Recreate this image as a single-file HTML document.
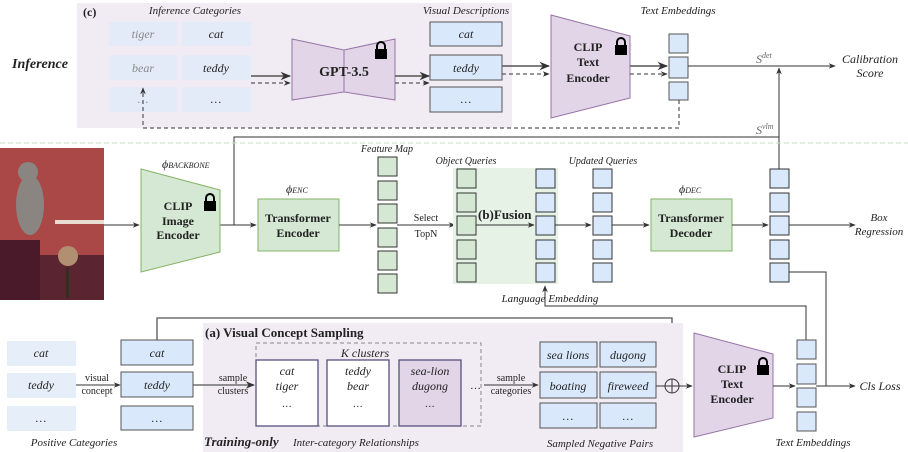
<!DOCTYPE html>
<html><head><meta charset="utf-8"><style>body{margin:0;background:#fff}svg{display:block}text{font-family:"Liberation Serif",serif;fill:#222}</style></head><body>
<svg width="908" height="452" viewBox="0 0 908 452" xmlns="http://www.w3.org/2000/svg">
<defs><marker id="a" viewBox="0 0 10 10" refX="9" refY="5" markerWidth="7" markerHeight="7" orient="auto"><path d="M0,1 L10,5 L0,9 L3,5z" fill="#333"/></marker></defs>
<g font-size="11">
<!-- top panel -->
<rect x="77" y="3" width="435" height="125" fill="#f1ecf4"/>
<text x="83" y="16" font-weight="bold" font-size="12">(c)</text>
<text x="12" y="68" font-weight="bold" font-style="italic" font-size="14">Inference</text>
<text x="195" y="14" text-anchor="middle" font-style="italic">Inference Categories</text>
<g fill="#e3ebf8"><rect x="109" y="22" width="68" height="24"/><rect x="182" y="22" width="69" height="24"/><rect x="109" y="55" width="68" height="25"/><rect x="182" y="55" width="69" height="25"/><rect x="109" y="87" width="68" height="25"/><rect x="182" y="87" width="69" height="25"/></g>
<g font-style="italic" text-anchor="middle" font-size="12"><text x="143" y="38" style="fill:#888">tiger</text><text x="216" y="38">cat</text><text x="143" y="72" style="fill:#888">bear</text><text x="216" y="72">teddy</text><text x="143" y="103" style="fill:#888">…</text><text x="216" y="103">…</text></g>
<line x1="251" y1="76" x2="290" y2="76" stroke="#555" stroke-width="1.5" marker-end="url(#a)"/>
<line x1="251" y1="83" x2="290" y2="83" stroke="#333" stroke-dasharray="4,3" marker-end="url(#a)"/>
<path d="M292,39 L344,50 L344,92 L292,100z M344,50 L395,39 L395,100 L344,92z" fill="#e1d5e7" stroke="#9673a6"/>
<text x="344" y="76" text-anchor="middle" font-weight="bold" font-size="14">GPT-3.5</text>
<g transform="translate(374,42)"><path d="M3,7 V4 a4,4 0 0 1 8,0 V7" fill="none" stroke="#000" stroke-width="2"/><rect x="1" y="7" width="12" height="10" fill="#000"/></g>
<line x1="395" y1="76" x2="429" y2="76" stroke="#555" stroke-width="1.5" marker-end="url(#a)"/>
<line x1="395" y1="83" x2="429" y2="83" stroke="#333" stroke-dasharray="4,3" marker-end="url(#a)"/>
<text x="466" y="14" text-anchor="middle" font-style="italic">Visual Descriptions</text>
<g fill="#dae8fc" stroke="#555"><rect x="430" y="22" width="72" height="24"/><rect x="430" y="55" width="72" height="25"/><rect x="430" y="87" width="72" height="25"/></g>
<g font-style="italic" text-anchor="middle" font-size="12"><text x="466" y="38">cat</text><text x="466" y="72">teddy</text><text x="466" y="103">…</text></g>
<line x1="502" y1="66" x2="549" y2="66" stroke="#555" stroke-width="1.5" marker-end="url(#a)"/>
<line x1="502" y1="74" x2="549" y2="74" stroke="#333" stroke-dasharray="4,3" marker-end="url(#a)"/>
<path d="M551,15 L630,36 L630,98 L551,118z" fill="#e1d5e7" stroke="#9673a6"/>
<g font-weight="bold" font-size="12" text-anchor="middle"><text x="588" y="51">CLIP</text><text x="588" y="66">Text</text><text x="588" y="82">Encoder</text></g>
<g transform="translate(614,38)"><path d="M3,7 V4 a4,4 0 0 1 8,0 V7" fill="none" stroke="#000" stroke-width="2"/><rect x="1" y="7" width="12" height="10" fill="#000"/></g>
<line x1="630" y1="66" x2="667" y2="66" stroke="#555" stroke-width="1.5" marker-end="url(#a)"/>
<line x1="630" y1="74" x2="667" y2="74" stroke="#333" stroke-dasharray="4,3" marker-end="url(#a)"/>
<text x="678" y="14" text-anchor="middle" font-style="italic">Text Embeddings</text>
<g fill="#dae8fc" stroke="#555"><rect x="669" y="34" width="19" height="19"/><rect x="669" y="57" width="19" height="21"/><rect x="669" y="82" width="19" height="18"/></g>
<line x1="688" y1="66" x2="835" y2="66" stroke="#333" marker-end="url(#a)"/>
<text x="870" y="63" text-anchor="middle" font-style="italic" font-size="12">Calibration</text>
<text x="870" y="77" text-anchor="middle" font-style="italic" font-size="12">Score</text>
<text x="756" y="63" font-style="italic" font-size="12" style="fill:#666">S<tspan font-size="8" dy="-5">det</tspan></text>
<text x="756" y="134" font-style="italic" font-size="12" style="fill:#666">S<tspan font-size="8" dy="-5">vlm</tspan></text>
<line x1="779" y1="169" x2="779" y2="68" stroke="#333" marker-end="url(#a)"/>
<path d="M679,100 V128 H143 V88" fill="none" stroke="#333" stroke-dasharray="4,3" marker-end="url(#a)"/>
<path d="M220,225 H234 V137 H779" fill="none" stroke="#333"/>
<line x1="0" y1="143" x2="908" y2="143" stroke="#c5e2c5" stroke-dasharray="5,3"/>
<!-- photo -->
<rect x="0" y="148" width="104" height="152" fill="#a94846"/>
<rect x="0" y="255" width="104" height="45" fill="#5a2430"/>
<rect x="0" y="240" width="40" height="60" fill="#4a1a2a"/>
<rect x="55" y="220" width="49" height="4" fill="#e8dcd0"/>
<ellipse cx="30" cy="205" rx="14" ry="30" fill="#8a8580"/>
<circle cx="28" cy="172" r="10" fill="#8a8580"/>
<ellipse cx="68" cy="256" rx="10" ry="10" fill="#b09070"/>
<rect x="66" y="268" width="3" height="30" fill="#3a2a20"/>
<line x1="104" y1="225" x2="139" y2="225" stroke="#333" marker-end="url(#a)"/>
<path d="M141,169 L220,190 L220,252 L141,272z" fill="#d5e8d4" stroke="#82b366"/>
<g font-weight="bold" font-size="12" text-anchor="middle"><text x="178" y="210">CLIP</text><text x="178" y="225">Image</text><text x="178" y="239">Encoder</text></g>
<g transform="translate(203,194)"><path d="M3,7 V4 a4,4 0 0 1 8,0 V7" fill="none" stroke="#000" stroke-width="2"/><rect x="1" y="7" width="12" height="10" fill="#000"/></g>
<text x="162" y="168" font-style="italic" font-size="12">ϕ<tspan font-size="8">BACKBONE</tspan></text>
<line x1="234" y1="225" x2="256" y2="225" stroke="#333" marker-end="url(#a)"/>
<rect x="258" y="199" width="81" height="52" fill="#d5e8d4" stroke="#82b366"/>
<g font-weight="bold" font-size="12" text-anchor="middle"><text x="298" y="222">Transformer</text><text x="298" y="237">Encoder</text></g>
<text x="286" y="193" font-style="italic" font-size="12">ϕ<tspan font-size="8">ENC</tspan></text>
<line x1="339" y1="225" x2="376" y2="225" stroke="#333" marker-end="url(#a)"/>
<text x="387" y="152" text-anchor="middle" font-style="italic" font-size="10">Feature Map</text>
<g fill="#d5e8d4" stroke="#333"><rect x="378" y="157" width="19" height="19"/><rect x="378" y="181" width="19" height="19"/><rect x="378" y="204" width="19" height="19"/><rect x="378" y="228" width="19" height="19"/><rect x="378" y="251" width="19" height="19"/><rect x="378" y="274" width="19" height="19"/></g>
<line x1="397" y1="225" x2="455" y2="225" stroke="#333" marker-end="url(#a)"/>
<text x="426" y="221" text-anchor="middle" font-size="10">Select</text>
<text x="426" y="237" text-anchor="middle" font-size="10">TopN</text>
<rect x="453" y="168" width="105" height="116" fill="#e6f2e5"/>
<text x="466" y="164" text-anchor="middle" font-style="italic" font-size="10">Object Queries</text>
<g fill="#d5e8d4" stroke="#333"><rect x="457" y="169" width="19" height="19"/><rect x="457" y="193" width="19" height="19"/><rect x="457" y="216" width="19" height="19"/><rect x="457" y="240" width="19" height="19"/><rect x="457" y="263" width="19" height="19"/></g>
<text x="478" y="219" font-weight="bold" font-size="13">(b)Fusion</text>
<line x1="476" y1="225" x2="534" y2="225" stroke="#333" marker-end="url(#a)"/>
<g fill="#dae8fc" stroke="#333"><rect x="536" y="169" width="19" height="19"/><rect x="536" y="193" width="19" height="19"/><rect x="536" y="216" width="19" height="19"/><rect x="536" y="240" width="19" height="19"/><rect x="536" y="263" width="19" height="19"/>
<rect x="593" y="169" width="19" height="19"/><rect x="593" y="193" width="19" height="19"/><rect x="593" y="216" width="19" height="19"/><rect x="593" y="240" width="19" height="19"/><rect x="593" y="263" width="19" height="19"/>
<rect x="770" y="169" width="19" height="19"/><rect x="770" y="193" width="19" height="19"/><rect x="770" y="216" width="19" height="19"/><rect x="770" y="240" width="19" height="19"/><rect x="770" y="263" width="19" height="19"/></g>
<text x="603" y="164" text-anchor="middle" font-style="italic" font-size="10">Updated Queries</text>
<line x1="555" y1="225" x2="591" y2="225" stroke="#333" marker-end="url(#a)"/>
<line x1="612" y1="225" x2="649" y2="225" stroke="#333" marker-end="url(#a)"/>
<rect x="651" y="199" width="81" height="52" fill="#d5e8d4" stroke="#82b366"/>
<g font-weight="bold" font-size="12" text-anchor="middle"><text x="691" y="222">Transformer</text><text x="691" y="237">Decoder</text></g>
<text x="679" y="193" font-style="italic" font-size="12">ϕ<tspan font-size="8">DEC</tspan></text>
<line x1="732" y1="225" x2="768" y2="225" stroke="#333" marker-end="url(#a)"/>
<line x1="789" y1="225" x2="855" y2="225" stroke="#333" marker-end="url(#a)"/>
<text x="879" y="221" text-anchor="middle" font-style="italic" font-size="11">Box</text>
<text x="879" y="235" text-anchor="middle" font-style="italic" font-size="11">Regression</text>
<path d="M789,272 H826 V386" fill="none" stroke="#333"/>
<path d="M806,340 V306 H545 V286" fill="none" stroke="#333" marker-end="url(#a)"/>
<text x="550" y="302" text-anchor="middle" font-style="italic" font-size="11">Language Embedding</text>
<!-- bottom -->
<path d="M157,340 V318 H672 V379" fill="none" stroke="#555" stroke-width="1.3"/>
<rect x="203" y="323" width="480" height="129" fill="#f1ecf4"/>
<text x="205" y="337" font-weight="bold" font-size="13">(a) Visual Concept Sampling</text>
<g fill="#e6eefa"><rect x="7" y="341" width="69" height="25"/><rect x="7" y="373" width="69" height="25"/><rect x="7" y="406" width="69" height="25"/></g>
<g font-style="italic" text-anchor="middle" font-size="12"><text x="41" y="357">cat</text><text x="41" y="389">teddy</text><text x="41" y="422">…</text></g>
<text x="74" y="446" text-anchor="middle" font-style="italic">Positive Categories</text>
<line x1="76" y1="385" x2="120" y2="385" stroke="#333" marker-end="url(#a)"/>
<text x="97" y="381" text-anchor="middle" font-size="10">visual</text>
<text x="97" y="394" text-anchor="middle" font-size="10">concept</text>
<g fill="#dae8fc" stroke="#555"><rect x="121" y="340" width="72" height="25"/><rect x="121" y="372" width="72" height="25"/><rect x="121" y="406" width="72" height="24"/></g>
<g font-style="italic" text-anchor="middle" font-size="12"><text x="157" y="357">cat</text><text x="157" y="389">teddy</text><text x="157" y="422">…</text></g>
<line x1="193" y1="385" x2="254" y2="385" stroke="#555" stroke-width="1.3" marker-end="url(#a)"/>
<text x="233" y="381" text-anchor="middle" font-size="10">sample</text>
<text x="233" y="394" text-anchor="middle" font-size="10">clusters</text>
<rect x="256" y="343" width="225" height="83" fill="none" stroke="#888" stroke-dasharray="4,3"/>
<text x="365" y="357" text-anchor="middle" font-style="italic" font-size="12">K clusters</text>
<g stroke="#56517e" stroke-width="1.3"><rect x="256" y="360" width="62" height="66" fill="#fff"/><rect x="327" y="360" width="62" height="66" fill="#fff"/><rect x="399" y="360" width="62" height="66" fill="#e1d5e7"/></g>
<g font-style="italic" text-anchor="middle" font-size="12"><text x="287" y="375">cat</text><text x="287" y="390">tiger</text><text x="287" y="407" font-size="10">…</text>
<text x="358" y="375">teddy</text><text x="358" y="390">bear</text><text x="358" y="407" font-size="10">…</text>
<text x="430" y="375">sea-lion</text><text x="430" y="390">dugong</text><text x="430" y="407" font-size="10">…</text></g>
<text x="470" y="389" font-size="11">…</text>
<line x1="484" y1="385" x2="538" y2="385" stroke="#333" marker-end="url(#a)"/>
<text x="511" y="381" text-anchor="middle" font-size="10">sample</text>
<text x="511" y="394" text-anchor="middle" font-size="10">categories</text>
<g fill="#dae8fc" stroke="#555"><rect x="540" y="342" width="57" height="25"/><rect x="600" y="342" width="56" height="25"/><rect x="540" y="372" width="57" height="26"/><rect x="600" y="372" width="56" height="26"/><rect x="540" y="403" width="57" height="25"/><rect x="600" y="403" width="56" height="25"/></g>
<g font-style="italic" text-anchor="middle" font-size="12"><text x="568" y="359">sea lions</text><text x="628" y="359">dugong</text><text x="568" y="390">boating</text><text x="628" y="390">fireweed</text><text x="568" y="420">…</text><text x="628" y="420">…</text></g>
<text x="600" y="447" text-anchor="middle" font-style="italic">Sampled Negative Pairs</text>
<text x="204" y="446" font-weight="bold" font-style="italic" font-size="13">Training-only</text>
<text x="293" y="446" font-style="italic" font-size="11">Inter-category Relationships</text>
<line x1="656" y1="386" x2="665" y2="386" stroke="#333"/>
<circle cx="672" cy="386" r="7" fill="none" stroke="#333"/><path d="M665,386 H679 M672,379 V393" stroke="#333"/>
<line x1="679" y1="386" x2="692" y2="386" stroke="#333" marker-end="url(#a)"/>
<path d="M694,333 L773,354 L773,418 L694,437z" fill="#e1d5e7" stroke="#9673a6"/>
<g font-weight="bold" font-size="12" text-anchor="middle"><text x="732" y="373">CLIP</text><text x="732" y="388">Text</text><text x="732" y="403">Encoder</text></g>
<g transform="translate(756,358)"><path d="M3,7 V4 a4,4 0 0 1 8,0 V7" fill="none" stroke="#000" stroke-width="2"/><rect x="1" y="7" width="12" height="10" fill="#000"/></g>
<line x1="773" y1="386" x2="795" y2="386" stroke="#333" marker-end="url(#a)"/>
<g fill="#dae8fc" stroke="#555"><rect x="797" y="340" width="19" height="19"/><rect x="797" y="364" width="19" height="20"/><rect x="797" y="388" width="19" height="19"/><rect x="797" y="412" width="19" height="19"/></g>
<line x1="816" y1="386" x2="855" y2="386" stroke="#333" marker-end="url(#a)"/>
<text x="880" y="390" text-anchor="middle" font-style="italic" font-size="12">Cls Loss</text>
<text x="813" y="446" text-anchor="middle" font-style="italic">Text Embeddings</text>
</g>
</svg>
</body></html>
